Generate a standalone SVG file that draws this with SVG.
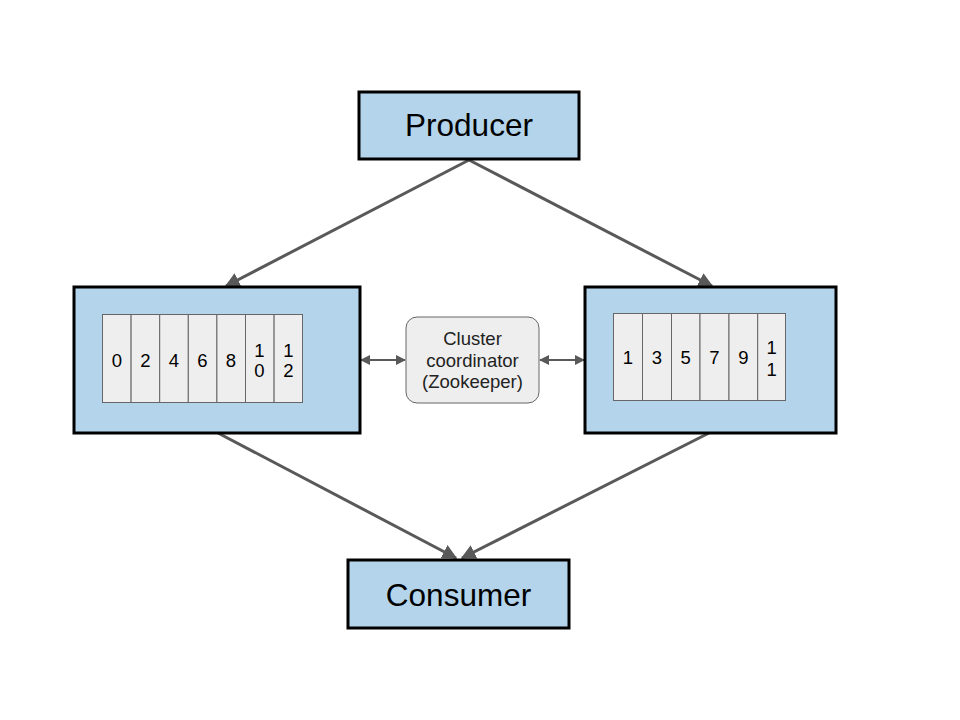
<svg xmlns="http://www.w3.org/2000/svg" width="960" height="720" viewBox="0 0 960 720">
<defs>
<style>
.box{fill:#b3d4ea;stroke:#000;stroke-width:3}
.slot{fill:#eeeeee;stroke:#666;stroke-width:1}
.zk{fill:#eeeeee;stroke:#666;stroke-width:1}
.big{font-family:"Liberation Sans",Arial,sans-serif;font-size:31.5px;fill:#000;text-anchor:middle}
.num{font-family:"Liberation Sans",Arial,sans-serif;font-size:18.5px;fill:#000;text-anchor:middle}
.zt{font-family:"Liberation Sans",Arial,sans-serif;font-size:18.5px;fill:#222;text-anchor:middle}
.conn{stroke:#595959;stroke-width:3;fill:none}
.dbl{stroke:#595959;stroke-width:2;fill:none}
</style>
<marker id="ah" viewBox="0 0 10 10" refX="9" refY="5" markerWidth="5" markerHeight="5" orient="auto-start-reverse" markerUnits="strokeWidth">
<path d="M0,0 L10,5 L0,10 z" fill="#595959"/>
</marker>
<marker id="ah2" viewBox="0 0 10 10" refX="9" refY="5" markerWidth="5" markerHeight="5" orient="auto-start-reverse" markerUnits="strokeWidth">
<path d="M0,0 L10,5 L0,10 z" fill="#595959"/>
</marker>
</defs>
<rect width="960" height="720" fill="#fff"/>
<g id="connectors">
<line class="conn" x1="469" y1="160" x2="226" y2="286" marker-end="url(#ah)"/>
<line class="conn" x1="469" y1="160" x2="712" y2="286" marker-end="url(#ah)"/>
<line class="conn" x1="218" y1="433" x2="456" y2="558" marker-end="url(#ah)"/>
<line class="conn" x1="709" y1="433" x2="462" y2="558" marker-end="url(#ah)"/>
<line class="dbl" x1="361" y1="360" x2="405" y2="360" marker-start="url(#ah2)" marker-end="url(#ah2)"/>
<line class="dbl" x1="540" y1="360" x2="584" y2="360" marker-start="url(#ah2)" marker-end="url(#ah2)"/>
</g>
<g id="producer">
<rect class="box" x="359" y="92" width="220" height="67"/>
<text class="big" x="469" y="136">Producer</text>
</g>
<g id="broker-left">
<rect class="box" x="74" y="287" width="286" height="146"/>
<rect class="slot" x="102.5" y="314.5" width="28.6" height="88"/>
<rect class="slot" x="131.1" y="314.5" width="28.6" height="88"/>
<rect class="slot" x="159.7" y="314.5" width="28.6" height="88"/>
<rect class="slot" x="188.3" y="314.5" width="28.6" height="88"/>
<rect class="slot" x="216.9" y="314.5" width="28.6" height="88"/>
<rect class="slot" x="245.5" y="314.5" width="28.6" height="88"/>
<rect class="slot" x="274.1" y="314.5" width="28.4" height="88"/>
<text class="num" x="117" y="367">0</text>
<text class="num" x="145.5" y="367">2</text>
<text class="num" x="174" y="367">4</text>
<text class="num" x="202.5" y="367">6</text>
<text class="num" x="231" y="367">8</text>
<text class="num" x="259.5" y="357">1</text>
<text class="num" x="259.5" y="377">0</text>
<text class="num" x="288.3" y="357">1</text>
<text class="num" x="288.3" y="377">2</text>
</g>
<g id="coordinator">
<rect class="zk" x="406" y="317" width="133" height="86" rx="11" ry="11"/>
<text class="zt" x="472.5" y="345">Cluster</text>
<text class="zt" x="472.5" y="366.5">coordinator</text>
<text class="zt" x="472.5" y="388">(Zookeeper)</text>
</g>
<g id="broker-right">
<rect class="box" x="585" y="287" width="251" height="146"/>
<rect class="slot" x="613.5" y="313.5" width="29" height="87"/>
<rect class="slot" x="642.5" y="313.5" width="29" height="87"/>
<rect class="slot" x="671.5" y="313.5" width="28.5" height="87"/>
<rect class="slot" x="700" y="313.5" width="29" height="87"/>
<rect class="slot" x="729" y="313.5" width="28.7" height="87"/>
<rect class="slot" x="757.7" y="313.5" width="27.8" height="87"/>
<text class="num" x="628" y="364">1</text>
<text class="num" x="657" y="364">3</text>
<text class="num" x="685.7" y="364">5</text>
<text class="num" x="714.5" y="364">7</text>
<text class="num" x="743.3" y="364">9</text>
<text class="num" x="771.6" y="354">1</text>
<text class="num" x="771.6" y="376">1</text>
</g>
<g id="consumer">
<rect class="box" x="348" y="560" width="221" height="68"/>
<text class="big" x="458.5" y="606">Consumer</text>
</g>
</svg>
